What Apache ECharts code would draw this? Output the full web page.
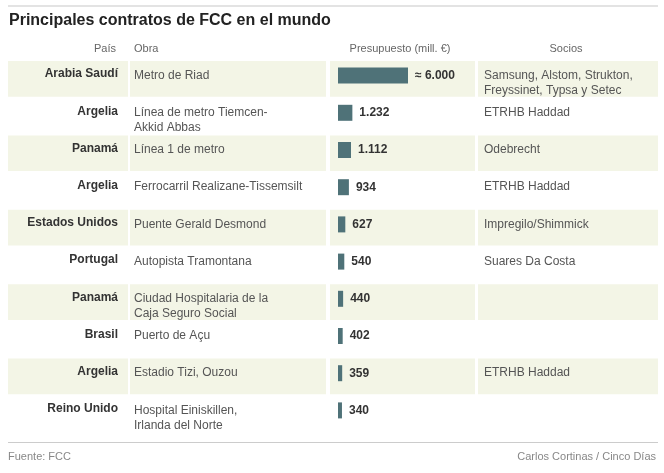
<!DOCTYPE html>
<html>
<head>
<meta charset="utf-8">
<script src="https://cdn.jsdelivr.net/npm/echarts@6/dist/echarts.min.js"></script>
<style>html,body{margin:0;padding:0;background:#fff}#main{width:664px;height:473px}</style>
</head>
<body>
<div id="main"></div>
<script>
// datos de la tabla
var paises = ['Arabia Saudí', 'Argelia', 'Panamá', 'Argelia', 'Estados Unidos', 'Portugal', 'Panamá', 'Brasil', 'Argelia', 'Reino Unido'];
var obras = ['Metro de Riad', 'Línea de metro Tiemcen-\nAkkid Abbas', 'Línea 1 de metro', 'Ferrocarril Realizane-Tissemsilt',
  'Puente Gerald Desmond', 'Autopista Tramontana', 'Ciudad Hospitalaria de la\nCaja Seguro Social', 'Puerto de Açu',
  'Estadio Tizi, Ouzou', 'Hospital Einiskillen,\nIrlanda del Norte'];
var presupuesto = [6000, 1232, 1112, 934, 627, 540, 440, 402, 359, 340];
var etiquetas = ['≈ 6.000', '1.232', '1.112', '934', '627', '540', '440', '402', '359', '340'];
var socios = ['Samsung, Alstom, Strukton,\nFreyssinet, Typsa y Setec', 'ETRHB Haddad', 'Odebrecht', 'ETRHB Haddad',
  'Impregilo/Shimmick', 'Suares Da Costa', '', '', 'ETRHB Haddad', ''];

var top0 = 61, rowH = 37.2;
var font = '"Liberation Sans", Arial, sans-serif';
var graphics = [];

// lineas y titulo
graphics.push({ type: 'rect', shape: { x: 8, y: 5, width: 650, height: 2 }, style: { fill: '#e3e3e3' } });
graphics.push({ type: 'text', left: 9, top: 13, style: { text: 'Principales contratos de FCC en el mundo', font: 'bold 16px ' + font, fill: '#222' } });
var hdr = { font: '11px ' + font, fill: '#666' };
graphics.push({ type: 'text', x: 116, y: 43, style: Object.assign({ text: 'País', textAlign: 'right' }, hdr) });
graphics.push({ type: 'text', x: 134, y: 43, style: Object.assign({ text: 'Obra' }, hdr) });
graphics.push({ type: 'text', x: 400, y: 43, style: Object.assign({ text: 'Presupuesto (mill. €)', textAlign: 'center' }, hdr) });
graphics.push({ type: 'text', x: 566, y: 43, style: Object.assign({ text: 'Socios', textAlign: 'center' }, hdr) });

paises.forEach(function (p, i) {
  var y = top0 + i * rowH;
  if (i % 2 === 0) {
    [[8, 120], [130, 196], [330, 145], [478, 180]].forEach(function (c) {
      graphics.push({ type: 'rect', z: -1, shape: { x: c[0], y: y, width: c[1], height: rowH - 1.5 }, style: { fill: '#f3f5e6' } });
    });
  }
  graphics.push({ type: 'text', x: 118, y: y + 7, style: { text: p, textAlign: 'right', font: 'bold 12px ' + font, fill: '#333' } });
  graphics.push({ type: 'text', x: 134, y: y + 7, style: { text: obras[i], font: '12px ' + font, fill: '#555', lineHeight: 15 } });
  graphics.push({ type: 'text', x: 484, y: y + 7, style: { text: socios[i], font: '12px ' + font, fill: '#555', lineHeight: 15 } });
});

graphics.push({ type: 'rect', shape: { x: 8, y: 442, width: 650, height: 1 }, style: { fill: '#ccc' } });
graphics.push({ type: 'text', x: 8, y: 451, style: { text: 'Fuente: FCC', font: '11px ' + font, fill: '#888' } });
graphics.push({ type: 'text', x: 656, y: 451, style: { text: 'Carlos Cortinas / Cinco Días', textAlign: 'right', font: '11px ' + font, fill: '#888' } });

var myChart = echarts.init(document.getElementById('main'));
myChart.setOption({
  animation: false,
  graphic: graphics,
  grid: { left: 338, top: top0 - 4, width: 70, height: rowH * 10 },
  xAxis: { type: 'value', min: 0, max: 6000, show: false },
  yAxis: { type: 'category', inverse: true, data: paises.map(function (p, i) { return i; }), show: false },
  series: [{
    type: 'bar',
    data: presupuesto,
    barWidth: 16,
    itemStyle: { color: '#4f7278' },
    label: {
      show: true, position: 'right', distance: 7,
      fontFamily: font, fontWeight: 'bold', fontSize: 12, color: '#333',
      formatter: function (d) { return etiquetas[d.dataIndex]; }
    }
  }]
});
</script>
</body>
</html>
